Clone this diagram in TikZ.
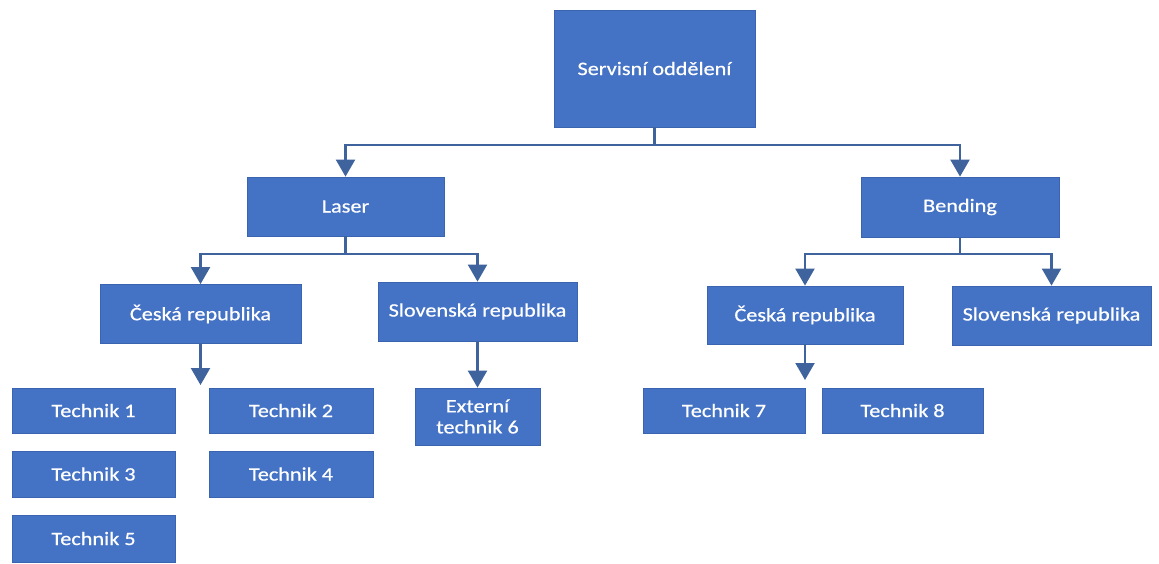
\documentclass[tikz,border=0pt]{standalone}
\usepackage{fontspec}
\setmainfont[FakeStretch=1.17, FakeBold=0.6]{Carlito}
\usetikzlibrary{arrows.meta}
\definecolor{boxblue}{HTML}{4472C4}
\definecolor{boxedge}{HTML}{3B64B0}
\definecolor{linkblue}{HTML}{3F639C}
\tikzset{
  unit/.style={draw=boxedge, line width=0.8pt, fill=boxblue, text=white,
    inner sep=0pt, align=center, font=\fontsize{19}{22}\selectfont},
  link/.style={draw=linkblue, line width=2.2pt},
  arrowlink/.style={link, -{Triangle[width=19pt,length=17pt]}},
}
\begin{document}
\begin{tikzpicture}[x=1pt, y=-1pt]
\useasboundingbox (0,0) rectangle (1159,563);
\fill[white] (0,0) rectangle (1159,563);

% top level
\node[unit, minimum width=201pt, minimum height=117pt] (srv) at (654.5,68.5) {Servisní oddělení};

% divisions
\node[unit, minimum width=197pt, minimum height=59pt] (laser) at (345.5,206.5) {Laser};
\node[unit, minimum width=198pt, minimum height=60pt] (bend) at (960,207) {Bending};

% countries
\node[unit, minimum width=201pt, minimum height=59pt] (cz1) at (200.5,314) {Česká republika};
\node[unit, minimum width=199pt, minimum height=59pt] (sk1) at (477.5,311.5) {Slovenská republika};
\node[unit, minimum width=196pt, minimum height=58pt] (cz2) at (805,315) {Česká republika};
\node[unit, minimum width=199pt, minimum height=59pt] (sk2) at (1051.5,315.5) {Slovenská republika};

% technicians
\node[unit, minimum width=163pt, minimum height=45pt] (t1) at (93.5,410.5) {Technik 1};
\node[unit, minimum width=164pt, minimum height=45pt] (t2) at (291,410.5) {Technik 2};
\node[unit, minimum width=163pt, minimum height=46pt] (t3) at (93.5,474) {Technik 3};
\node[unit, minimum width=164pt, minimum height=46pt] (t4) at (291,474) {Technik 4};
\node[unit, minimum width=163pt, minimum height=47pt] (t5) at (93.5,538.5) {Technik 5};
\node[unit, minimum width=125pt, minimum height=57pt] (t6) at (477.5,416.5) {Externí\\[-1pt]technik 6};
\node[unit, minimum width=162pt, minimum height=45pt] (t7) at (724,410.5) {Technik 7};
\node[unit, minimum width=161pt, minimum height=45pt] (t8) at (902.5,410.5) {Technik 8};

% branching points and free arrow ends
\coordinate (b1) at (654.5,145);
\coordinate (b2) at (345.5,254);
\coordinate (b3) at (960,254);
\coordinate (e1) at (200.5,385);
\coordinate (e2) at (805,380);

% connectors
\draw[link] (srv.south) -- (b1);
\draw[arrowlink] (b1) -| (laser.north);
\draw[arrowlink] (b1) -| (bend.north);

\draw[link] (laser.south) -- (b2);
\draw[arrowlink] (b2) -| (cz1.north);
\draw[arrowlink] (b2) -| (sk1.north);

\draw[link] (bend.south) -- (b3);
\draw[arrowlink] (b3) -| (cz2.north);
\draw[arrowlink] (b3) -| (sk2.north);

\draw[arrowlink] (cz1.south) -- (e1);
\draw[arrowlink] (sk1.south) -- (t6.north);
\draw[arrowlink] (cz2.south) -- (e2);
\end{tikzpicture}
\end{document}
